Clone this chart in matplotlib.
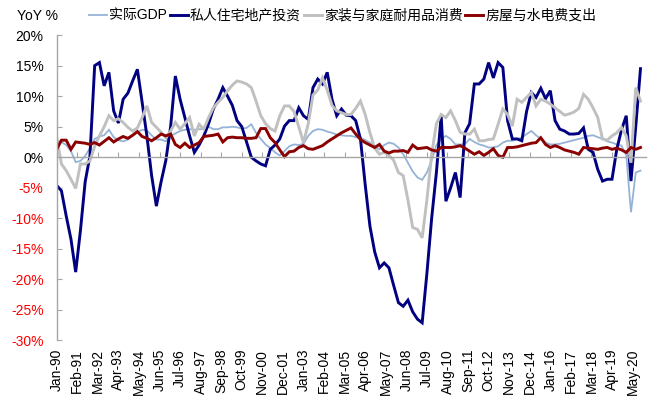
import numpy as np
import pandas as pd
import matplotlib
matplotlib.use("Agg")
import matplotlib.pyplot as plt

plt.rcParams['font.family'] = ['Liberation Sans', 'Noto Sans CJK SC']

# quarterly YoY %, 1990Q1 .. 2020Q4
gdp = [
    2.7, 2.5, 2.0, 1.0,   -0.8, -0.6, 0.2, 1.5,   3.0, 3.4, 3.6, 4.5,   3.3, 2.8, 2.6, 2.9,
    3.6, 4.1, 4.5, 4.4,   3.6, 2.9, 2.9, 2.6,   3.5, 3.9, 4.3, 4.5,   4.6, 4.5, 4.6, 4.6,
    5.0, 4.6, 4.6, 4.9,   4.9, 5.0, 4.9, 4.7,   4.8, 5.4, 4.0, 3.0,   2.1, 1.5, 0.8, 0.3,
    1.0, 1.8, 2.1, 2.0,   2.2, 3.5, 4.3, 4.6,   4.5, 4.2, 4.0, 3.7,   3.6, 3.5, 3.5, 3.3,
    3.2, 2.8, 2.4, 1.8,   1.3, 2.0, 2.4, 2.2,   1.6, 0.5, -0.9, -2.3, -3.3, -3.7, -2.5, -0.5,
    2.0, 3.0, 3.5, 3.0,   2.1, 2.1, 2.1, 3.0,   2.5, 2.1, 1.9, 1.6,   1.6, 1.8, 2.4, 2.7,
    2.7, 3.0, 3.2, 3.8,   4.3, 3.6, 3.0, 2.4,   2.1, 2.1, 2.2, 2.4,   2.6, 2.8, 3.0, 3.2,
    3.5, 3.6, 3.3, 3.0,   2.6, 2.4, 2.1, 1.9,   0.3, -9.0, -2.5, -2.2,
]
resi = [
    -4.6, -5.5, -9.6, -13.4,  -18.8, -12.0, -4.0, 0.2,  15.0, 15.5, 11.7, 13.9,  7.6, 5.6, 9.5, 10.5,
    12.5, 14.4, 9.0, 3.5,     -3.0, -8.0, -4.0, -0.5,   5.0, 13.3, 9.5, 6.5,    3.5, 0.8, 2.0, 3.5,
    5.5, 7.9, 9.5, 11.4,      10.0, 8.5, 6.0, 5.0,      2.5, 0.0, -0.6, -1.1,   -1.4, 1.3, 2.0, 3.0,
    5.1, 6.0, 6.0, 8.1,       6.8, 6.2, 11.4, 12.8,     12.0, 13.9, 9.5, 6.8,   7.9, 6.9, 6.8, 6.0,
    3.0, -4.5, -11.3, -15.5,  -18.1, -17.3, -18.1, -21.0, -23.8, -24.4, -23.4, -25.3, -26.5, -27.1, -19.0, -10.0,
    -2.5, 6.8, -7.2, -5.0,    -2.5, -6.6, 4.0, 5.5,     12.0, 12.0, 12.8, 15.5, 13.0, 15.5, 14.7, 6.0,
    3.0, 3.0, 2.7, 7.5,       10.6, 9.8, 11.3, 9.6,     10.9, 6.0, 4.6, 4.3,    3.8, 3.8, 3.9, 4.8,
    1.3, 0.8, -2.0, -3.9,     -3.6, -3.6, 1.3, 4.5,     6.8, -3.9, 5.0, 14.5,
]
furn = [
    3.2, -1.1, -2.2, -3.6,   -5.1, -1.1, -1.1, -0.6,  1.8, 3.5, 5.0, 6.8,    6.0, 6.3, 5.7, 4.9,
    4.3, 4.8, 6.5, 8.4,      5.7, 4.9, 4.1, 3.2,      4.3, 5.7, 4.6, 5.5,    6.5, 3.5, 5.4, 4.6,
    6.5, 8.1, 9.0, 9.8,      10.9, 11.8, 12.5, 12.3,  12.0, 11.4, 9.2, 6.8,  5.5, 4.7, 4.3, 6.8,
    8.4, 8.4, 7.5, 5.0,      2.4, 5.5, 10.2, 11.0,    13.0, 11.0, 8.5, 7.6,  7.3, 7.0, 7.0, 8.0,
    9.2, 7.0, 4.0, 1.5,      0.5, 0.8, 0.3, -0.5,     -2.5, -3.0, -7.0, -11.5, -11.8, -13.2, -7.0, 0.5,
    5.5, 7.0, 6.5, 7.6,      6.0, 4.1, 3.8, 3.8,      4.6, 2.7, 2.7, 2.9,    3.0, 5.4, 7.9, 7.0,
    5.1, 9.5, 9.0, 9.8,      10.6, 8.4, 9.5, 9.2,     8.7, 8.1, 7.5, 6.9,    7.1, 7.4, 8.0, 10.3,
    9.5, 8.1, 6.5, 3.0,      2.8, 3.5, 4.0, 4.9,      3.5, -0.9, 11.4, 9.2,
]
hous = [
    1.3, 2.8, 2.8, 1.3,   2.5, 2.4, 2.3, 2.1,   2.4, 2.0, 2.6, 3.2,   2.5, 3.0, 3.4, 3.1,
    3.6, 4.2, 3.4, 3.1,   2.7, 3.2, 3.8, 3.5,   3.8, 2.1, 1.6, 2.3,   1.6, 2.0, 2.4, 3.4,
    3.5, 3.6, 3.8, 2.5,   3.2, 3.3, 3.2, 3.2,   3.1, 3.1, 3.2, 4.7,   4.7, 3.2, 2.4, 1.2,
    0.1, 0.9, 1.0, 1.6,   1.9, 1.4, 1.3, 1.6,   1.9, 2.5, 3.0, 3.5,   4.0, 4.4, 4.8, 3.8,
    2.9, 2.4, 2.0, 1.6,   2.1, 1.0, 0.7, 1.0,   1.0, 1.1, 0.8, 2.0,   1.4, 1.5, 1.6, 1.2,
    1.0, 1.6, 1.6, 1.6,   1.7, 1.9, 1.5, 1.0,   0.5, 0.9, 0.3, 0.8,   1.4, 0.3, 0.0, 1.6,
    1.6, 1.7, 1.9, 2.1,   2.3, 2.4, 3.2, 2.1,   1.6, 1.9, 1.6, 1.2,   1.0, 0.8, 0.5, 1.6,
    1.5, 1.4, 1.3, 1.5,   1.6, 1.3, 1.5, 1.2,   0.8, 1.6, 1.3, 1.6,
]

names = ["实际GDP", "私人住宅地产投资", "家装与家庭耐用品消费", "房屋与水电费支出"]
colors = ["#95B3D7", "#000080", "#C0C0C0", "#8B0000"]
widths = [1.3, 2.1, 2.1, 2.1]

tick_labels = ["Jan-90", "Feb-91", "Mar-92", "Apr-93", "May-94", "Jun-95", "Jul-96",
               "Aug-97", "Sep-98", "Oct-99", "Nov-00", "Dec-01", "Jan-03", "Feb-04",
               "Mar-05", "Apr-06", "May-07", "Jun-08", "Jul-09", "Aug-10", "Sep-11",
               "Oct-12", "Nov-13", "Dec-14", "Jan-16", "Feb-17", "Mar-18", "Apr-19",
               "May-20"]
y_ticks = [-30, -25, -20, -15, -10, -5, 0, 5, 10, 15, 20]

quarters = pd.period_range("1990Q1", "2020Q4", freq="Q")
x = (quarters.year - 1990) * 12 + (quarters.quarter - 1) * 3   # months since Jan-90
tick_pos = np.arange(len(tick_labels)) * 13

axis_grey = "#A6A6A6"

fig = plt.figure(figsize=(6.54, 4.17), dpi=100)
ax = fig.add_axes([0.0867, 0.1835, 0.9011, 0.7323])

for vals, name, c, lw in zip([gdp, resi, furn, hous], names, colors, widths):
    ax.plot(x, vals, color=c, lw=lw, label=name, solid_joinstyle="miter")

ax.set_xlim(0, 372.5)
ax.set_ylim(-30, 20)

ax.spines[["top", "right"]].set_visible(False)
ax.spines["bottom"].set_position(("data", 0))
for s in ("bottom", "left"):
    ax.spines[s].set_color(axis_grey)
    ax.spines[s].set_linewidth(1.0)

ax.set_xticks(tick_pos)
ax.tick_params(axis="x", direction="in", length=3.5, color=axis_grey, labelbottom=False)

ax.set_yticks(y_ticks, [f"{v}%" for v in y_ticks])
ax.tick_params(axis="y", direction="in", length=3.5, color=axis_grey, pad=9.5, labelsize=10)
for lab, v in zip(ax.get_yticklabels(), y_ticks):
    lab.set_color("#FF0000" if v < 0 else "black")

sec = ax.secondary_xaxis("bottom")
sec.set_xticks(tick_pos, tick_labels, rotation=90)
sec.tick_params(length=0, pad=6, labelsize=10)
sec.spines["bottom"].set_visible(False)

fig.text(16.7 / 654, 1 - 15.5 / 417, "YoY %", fontsize=10, ha="left", va="center")
fig.legend(loc="center left", bbox_to_anchor=(89.0 / 654, 1 - 15.5 / 417), ncol=4,
           frameon=False, fontsize=10, handlelength=1.3, handletextpad=0.15,
           columnspacing=0.2, borderpad=0, borderaxespad=0)

fig.savefig("out.png", dpi=100)
